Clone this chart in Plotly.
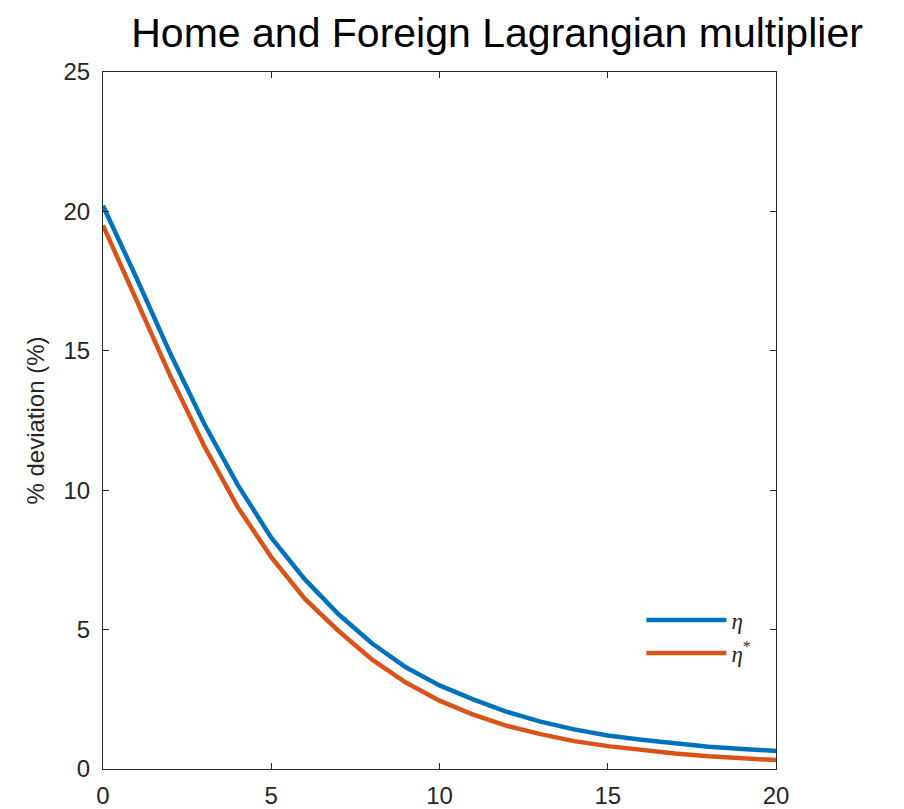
import plotly.graph_objects as go

periods = list(range(0, 21))
eta_home = [20.2, 17.6, 14.9, 12.4, 10.2, 8.3, 6.8, 5.55, 4.5, 3.65, 3.0,
            2.5, 2.05, 1.7, 1.42, 1.2, 1.05, 0.92, 0.8, 0.72, 0.65]
eta_foreign = [19.5, 16.8, 14.1, 11.6, 9.4, 7.6, 6.1, 4.95, 3.92, 3.1, 2.45,
               1.95, 1.55, 1.25, 1.0, 0.82, 0.68, 0.56, 0.46, 0.38, 0.32]
x_ticks = [0, 5, 10, 15, 20]
y_ticks = [0, 5, 10, 15, 20, 25]

fig = go.Figure()
fig.add_trace(go.Scatter(x=periods, y=eta_home, mode="lines", name="<i>η</i>",
                         line=dict(color="#0072BD", width=4.5)))
fig.add_trace(go.Scatter(x=periods, y=eta_foreign, mode="lines", name="<i>η</i><sup>*</sup>",
                         line=dict(color="#D95319", width=4.5)))

axis_common = dict(showgrid=False, zeroline=False, showline=True, linecolor="#262626",
                   linewidth=1, mirror="ticks", ticks="inside", ticklen=6,
                   tickcolor="#262626", automargin=False,
                   tickfont=dict(family="Liberation Sans", size=24, color="#262626"))

fig.update_layout(
    width=904, height=809,
    paper_bgcolor="white", plot_bgcolor="white",
    margin=dict(l=95, r=136, t=64, b=48),
    title=dict(text="Home and Foreign Lagrangian multiplier", x=0.541, xanchor="center",
               y=0.97, yanchor="middle",
               font=dict(family="Liberation Sans", size=41, color="black")),
    xaxis=dict(range=[0, 20], tickvals=x_ticks, ticklabelstandoff=5, **axis_common),
    yaxis=dict(range=[0, 25], tickvals=y_ticks, ticklabelstandoff=7,
               title=dict(text="% deviation (%)", standoff=12,
                          font=dict(family="Liberation Sans", size=24, color="#262626")),
               **axis_common),
    legend=dict(x=0.8, y=0.19, xanchor="left", yanchor="middle", bgcolor="rgba(0,0,0,0)",
                borderwidth=0, itemwidth=80,
                font=dict(family="Liberation Serif", size=23, color="#262626"),
                tracegroupgap=0),
    showlegend=True,
)

fig.write_html("out.html")
